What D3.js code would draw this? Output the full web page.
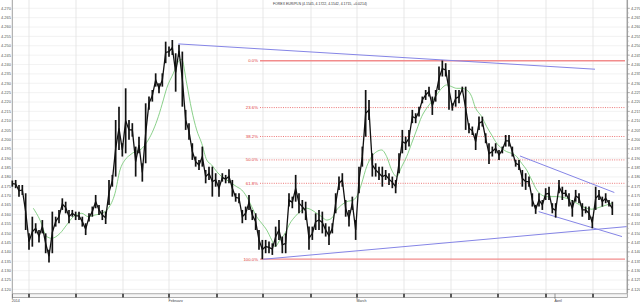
<!DOCTYPE html>
<html><head><meta charset="utf-8">
<script src="https://cdn.jsdelivr.net/npm/d3@7/dist/d3.min.js"></script>
<style>html,body{margin:0;padding:0;background:#fff;overflow:hidden}</style>
</head><body><svg id="c" width="640" height="302"></svg>
<script>
const title = "FOREX EUR/PLN (4.1545, 4.1722, 4.1542, 4.1715, +0.0214)";

const barHigh = [4.1781,4.1784,4.1757,4.1757,4.1713,4.1499,4.1588,4.1553,4.1517,4.1570,
4.1499,4.1411,4.1615,4.1588,4.1624,4.1686,4.1668,4.1624,4.1624,4.1615,
4.1615,4.1588,4.1553,4.1606,4.1642,4.1704,4.1651,4.1624,4.1615,4.1784,
4.1811,4.2104,4.2175,4.1980,4.2273,4.2104,4.2087,4.1962,4.2015,4.1873,
4.2193,4.2229,4.2264,4.2353,4.2300,4.2353,
4.2522,4.2496,4.2531,4.2460,4.2505,4.2469,4.2158,4.2087,4.1980,4.1909,
4.1891,4.1962,4.1837,4.1855,4.1855,4.1820,4.1784,4.1820,4.1811,4.1841,
4.1784,4.1713,4.1713,4.1624,4.1642,4.1704,4.1624,4.1606,4.1517,4.1464,
4.1464,4.1455,4.1446,4.1535,4.1570,4.1482,4.1499,4.1713,4.1695,4.1811,
4.1713,4.1677,4.1668,4.1535,4.1535,4.1606,4.1624,4.1615,
4.1553,4.1535,4.1553,4.1713,4.1802,4.1820,4.1677,4.1624,4.1695,4.1570,
4.1855,4.1962,4.2264,4.2211,4.1926,4.1873,4.1855,4.1855,4.1837,4.1820,
4.1802,4.1784,4.1926,4.2051,4.2015,4.2051,4.2158,4.2140,4.2175,4.2229,
4.2264,4.2282,4.2229,4.2264,4.2389,4.2421,4.2407,4.2371,4.2193,4.2264,
4.2264,4.2282,4.2282,4.2087,4.2069,
4.2033,4.2122,4.2122,4.2033,4.1980,4.1962,4.1980,4.1944,4.1962,4.2024,
4.2024,4.1962,4.1891,4.1891,4.1837,4.1820,4.1802,4.1713,4.1651,4.1713,
4.1677,4.1740,4.1748,4.1660,4.1660,4.1784,4.1748,4.1731,4.1713,4.1677,
4.1731,4.1713,4.1660,4.1642,4.1642,4.1588,4.1748,4.1731,4.1695,4.1713,
4.1677,4.1668];

const barLow = [4.1748,4.1740,4.1695,4.1704,4.1517,4.1411,4.1428,4.1499,4.1450,4.1499,
4.1393,4.1343,4.1393,4.1535,4.1553,4.1624,4.1606,4.1553,4.1588,4.1570,
4.1570,4.1535,4.1490,4.1562,4.1588,4.1633,4.1597,4.1570,4.1549,4.1651,
4.1748,4.1802,4.1944,4.1909,4.1926,4.1998,4.2015,4.1802,4.1926,4.1775,
4.1873,4.2158,4.2202,4.2282,4.2247,4.2282,
4.2407,4.2442,4.2451,4.2255,4.2442,4.2175,4.2051,4.1998,4.1891,4.1855,
4.1837,4.1855,4.1766,4.1784,4.1695,4.1748,4.1695,4.1775,4.1766,4.1766,
4.1695,4.1668,4.1660,4.1553,4.1570,4.1624,4.1570,4.1517,4.1411,4.1361,
4.1393,4.1393,4.1384,4.1428,4.1464,4.1393,4.1393,4.1642,4.1633,4.1668,
4.1606,4.1606,4.1570,4.1411,4.1464,4.1517,4.1517,4.1499,
4.1482,4.1437,4.1499,4.1606,4.1731,4.1748,4.1588,4.1535,4.1624,4.1464,
4.1713,4.1855,4.2015,4.2104,4.1802,4.1802,4.1784,4.1748,4.1784,4.1757,
4.1740,4.1713,4.1820,4.1926,4.1944,4.1962,4.2087,4.2087,4.2122,4.2193,
4.2211,4.2229,4.2131,4.2202,4.2264,4.2336,4.2336,4.2158,4.2154,4.2175,
4.2193,4.2255,4.2051,4.2033,4.2024,
4.1944,4.2051,4.2069,4.1980,4.1869,4.1909,4.1926,4.1891,4.1926,4.1962,
4.1962,4.1909,4.1855,4.1837,4.1748,4.1731,4.1748,4.1642,4.1603,4.1642,
4.1624,4.1677,4.1677,4.1606,4.1583,4.1713,4.1677,4.1695,4.1642,4.1588,
4.1668,4.1660,4.1588,4.1606,4.1570,4.1526,4.1624,4.1677,4.1642,4.1660,
4.1642,4.1597];

const maIndex = [6.3,8.3,10.3,11.8,14.3,16.3,18.3,20.8,22.8,24.8,26.8,28.8,30.8,32.3,33.8,35.3,36.8,38.3,39.8,40.8,42.3,43.8,45.3,
46.3,48.3,49.8,50.8,52.3,53.8,55.3,56.8,58.3,59.8,61.3,62.8,64.3,65.8,67.3,68.8,70.3,71.8,73.3,74.8,76.3,77.8,78.8,80.3,81.8,83.3,84.8,86.3,88.3,89.8,91.3,92.8,
94.3,95.8,97.3,98.8,100.3,102.3,103.8,104.8,106.3,107.8,109.3,110.8,112.3,113.8,115.3,116.8,118.3,119.8,121.3,122.8,124.3,125.8,127.3,128.8,130.3,131.8,133.3,134.8,136.3,137.8,
138.8,140.8,142.3,143.8,145.3,146.8,148.3,149.8,151.3,152.8,154.3,155.8,157.3,158.8,160.3,163.3,166.3,169.3,172.3,173.8,176.8,179.8];
const maValue = [4.1633,4.1570,4.1482,4.1473,4.1499,4.1544,4.1588,4.1606,4.1588,4.1597,4.1606,4.1633,4.1713,4.1837,4.1891,4.1917,4.1935,4.1944,4.1971,4.1998,4.2051,4.2122,4.2211,
4.2273,4.2353,4.2416,4.2428,4.2300,4.2158,4.2051,4.1980,4.1891,4.1864,4.1829,4.1802,4.1784,4.1766,4.1748,4.1731,4.1695,4.1642,4.1588,4.1553,4.1517,4.1464,4.1428,4.1464,4.1499,4.1553,4.1588,4.1615,4.1633,4.1624,4.1606,4.1588,
4.1570,4.1580,4.1624,4.1651,4.1668,4.1677,4.1713,4.1766,4.1855,4.1909,4.1935,4.1944,4.1909,4.1837,4.1802,4.1855,4.1909,4.1980,4.2051,4.2122,4.2167,4.2202,4.2238,4.2273,4.2291,4.2282,4.2273,4.2273,4.2264,4.2229,
4.2175,4.2122,4.2069,4.2024,4.1980,4.1953,4.1935,4.1926,4.1909,4.1873,4.1837,4.1784,4.1731,4.1704,4.1695,4.1695,4.1686,4.1660,4.1633,4.1628,4.1642,4.1660];

const yTickValues = [4.270,4.265,4.260,4.255,4.250,4.245,4.240,4.235,4.230,4.225,4.220,4.215,4.210,4.205,4.200,4.195,
4.190,4.185,4.180,4.175,4.170,4.165,4.160,4.155,4.150,4.145,4.140,4.135,4.130,4.125,4.120];
const weekTickIndex = [5.0,19.1,33.2,47.0,61.4,75.2,89.6,103.4,117.5,131.6,145.7,160.1,174.2];
const monthLabels = ["2014","February","March","April"];
const monthIndex = [0, 47.0, 103.4, 162.8];

const fibLevels = [0, 23.6, 38.2, 50.0, 61.8, 100.0];
const fibHigh = 4.2420, fibLow = 4.1362;
const fibStart = 74.3, fibEnd = 183.8;

const trendStartIndex = [49.8, 75.3, 152.3, 157.9];
const trendStartValue = [4.2510, 4.1361, 4.1912, 4.1615];
const trendEndIndex = [174.8, 184.3, 180.6, 182.9];
const trendEndValue = [4.2375, 4.1535, 4.1717, 4.1482];

(function () {
const svg = d3.select("#c");
const font = "'Liberation Sans', Arial, sans-serif";
const pL = 12.3, pR = 627.3, pT = 0, pB = 293.5;

const x = d3.scaleLinear().domain([0, barHigh.length - 1]).range([12.33, 612.33]);
const y = d3.scaleLinear().domain([4.120, 4.270]).range([289.4, 8.3]);

// grid
svg.append("g").selectAll("line").data(yTickValues).join("line")
  .attr("x1", pL).attr("x2", pR).attr("y1", d => y(d)).attr("y2", d => y(d))
  .attr("stroke", "#efefef").attr("stroke-width", 0.8);
svg.append("g").selectAll("line").data(weekTickIndex).join("line")
  .attr("x1", d => x(d)).attr("x2", d => x(d)).attr("y1", pT).attr("y2", pB)
  .attr("stroke", "#e2e2e2").attr("stroke-width", 0.8);

// title
svg.append("text").attr("x", 320).attr("y", 4.6).attr("text-anchor", "middle")
  .attr("font-family", font).attr("font-size", 3.5).attr("fill", "#333")
  .attr("textLength", 94).attr("lengthAdjust", "spacingAndGlyphs").text(title);

// axes lines
svg.append("line").attr("x1", pL).attr("x2", pL).attr("y1", pT).attr("y2", pB)
  .attr("stroke", "#a0a0a0").attr("stroke-width", 1);
svg.append("line").attr("x1", pR).attr("x2", pR).attr("y1", pT).attr("y2", pB)
  .attr("stroke", "#a0a0a0").attr("stroke-width", 1.5);

// y labels left and right
svg.append("g").selectAll("text").data(yTickValues).join("text")
  .attr("x", 11).attr("y", d => y(d)).attr("dy", "0.35em").attr("text-anchor", "end")
  .attr("font-family", font).attr("font-size", 4).attr("fill", "#555")
  .text(d => d3.format(".3f")(d));
svg.append("g").selectAll("text").data(yTickValues).join("text")
  .attr("x", 631).attr("y", d => y(d)).attr("dy", "0.35em").attr("text-anchor", "start")
  .attr("font-family", font).attr("font-size", 4).attr("fill", "#555")
  .text(d => d3.format(".3f")(d));
svg.append("g").selectAll("line").data(yTickValues).join("line")
  .attr("x1", pR).attr("x2", pR + 2.5).attr("y1", d => y(d)).attr("y2", d => y(d))
  .attr("stroke", "#888").attr("stroke-width", 0.7);
svg.append("g").selectAll("line").data(yTickValues.slice(1)).join("line")
  .attr("x1", pR).attr("x2", pR + 1.5).attr("y1", d => y(d + 0.0025)).attr("y2", d => y(d + 0.0025))
  .attr("stroke", "#aaa").attr("stroke-width", 0.5);

// fib levels
const fibVal = p => fibHigh - (fibHigh - fibLow) * p / 100;
const fg = svg.append("g");
fibLevels.forEach(p => {
  const solid = (p === 0 || p === 100);
  fg.append("line").attr("x1", x(fibStart)).attr("x2", x(fibEnd))
    .attr("y1", y(fibVal(p))).attr("y2", y(fibVal(p)))
    .attr("stroke", solid ? "#f28c8c" : "#ea6a6a")
    .attr("stroke-width", solid ? 1.3 : 0.9)
    .attr("stroke-dasharray", solid ? null : "1,1.3");
  fg.append("text").attr("x", x(fibStart) - 2).attr("y", y(fibVal(p))).attr("dy", "0.35em")
    .attr("text-anchor", "end").attr("font-family", font).attr("font-size", 4.3)
    .attr("fill", "#e03a3a").text(d3.format(".1f")(p) + "%");
});

// trend lines
svg.append("g").selectAll("line").data(trendStartIndex).join("line")
  .attr("x1", d => x(d)).attr("y1", (d, i) => y(trendStartValue[i]))
  .attr("x2", (d, i) => x(trendEndIndex[i])).attr("y2", (d, i) => y(trendEndValue[i]))
  .attr("stroke", "#8585e6").attr("stroke-width", 1);

// moving average
const maLine = d3.line().x((d, i) => x(maIndex[i])).y(d => y(d)).curve(d3.curveMonotoneX);
svg.append("path").attr("d", maLine(maValue)).attr("fill", "none")
  .attr("stroke", "#6cc46c").attr("stroke-width", 0.8);

// price bars
const bars = barHigh.map((h, i) => ({i, h, l: barLow[i]}));
const mid = d3.line().x(d => x(d.i)).y(d => y((d.h + d.l) / 2));
svg.append("path").attr("d", mid(bars)).attr("fill", "none")
  .attr("stroke", "#111").attr("stroke-width", 1.3);
svg.append("g").selectAll("line").data(bars).join("line")
  .attr("x1", d => x(d.i)).attr("x2", d => x(d.i))
  .attr("y1", d => y(d.h)).attr("y2", d => y(d.l))
  .attr("stroke", "#111").attr("stroke-width", 1.7);

// bottom strip
svg.append("rect").attr("x", pL).attr("y", 293.8).attr("width", pR - pL).attr("height", 3.6)
  .attr("fill", "#f6f6f6").attr("stroke", "#8a8a8a").attr("stroke-width", 0.7);
svg.append("g").selectAll("rect").data(weekTickIndex).join("rect")
  .attr("x", d => x(d) - 0.8).attr("y", 293.8).attr("width", 1.6).attr("height", 3.6)
  .attr("fill", "#333");
svg.append("g").selectAll("text").data(monthLabels).join("text")
  .attr("x", (d, i) => x(monthIndex[i]) - 0.5).attr("y", 301.6)
  .attr("font-family", font).attr("font-size", 3.6).attr("fill", "#444")
  .text(d => d);
svg.append("g").selectAll("line").data(monthIndex).join("line")
  .attr("x1", d => x(d)).attr("x2", d => x(d)).attr("y1", 293.8).attr("y2", 299)
  .attr("stroke", "#555").attr("stroke-width", 0.6);
})();
</script></body></html>
